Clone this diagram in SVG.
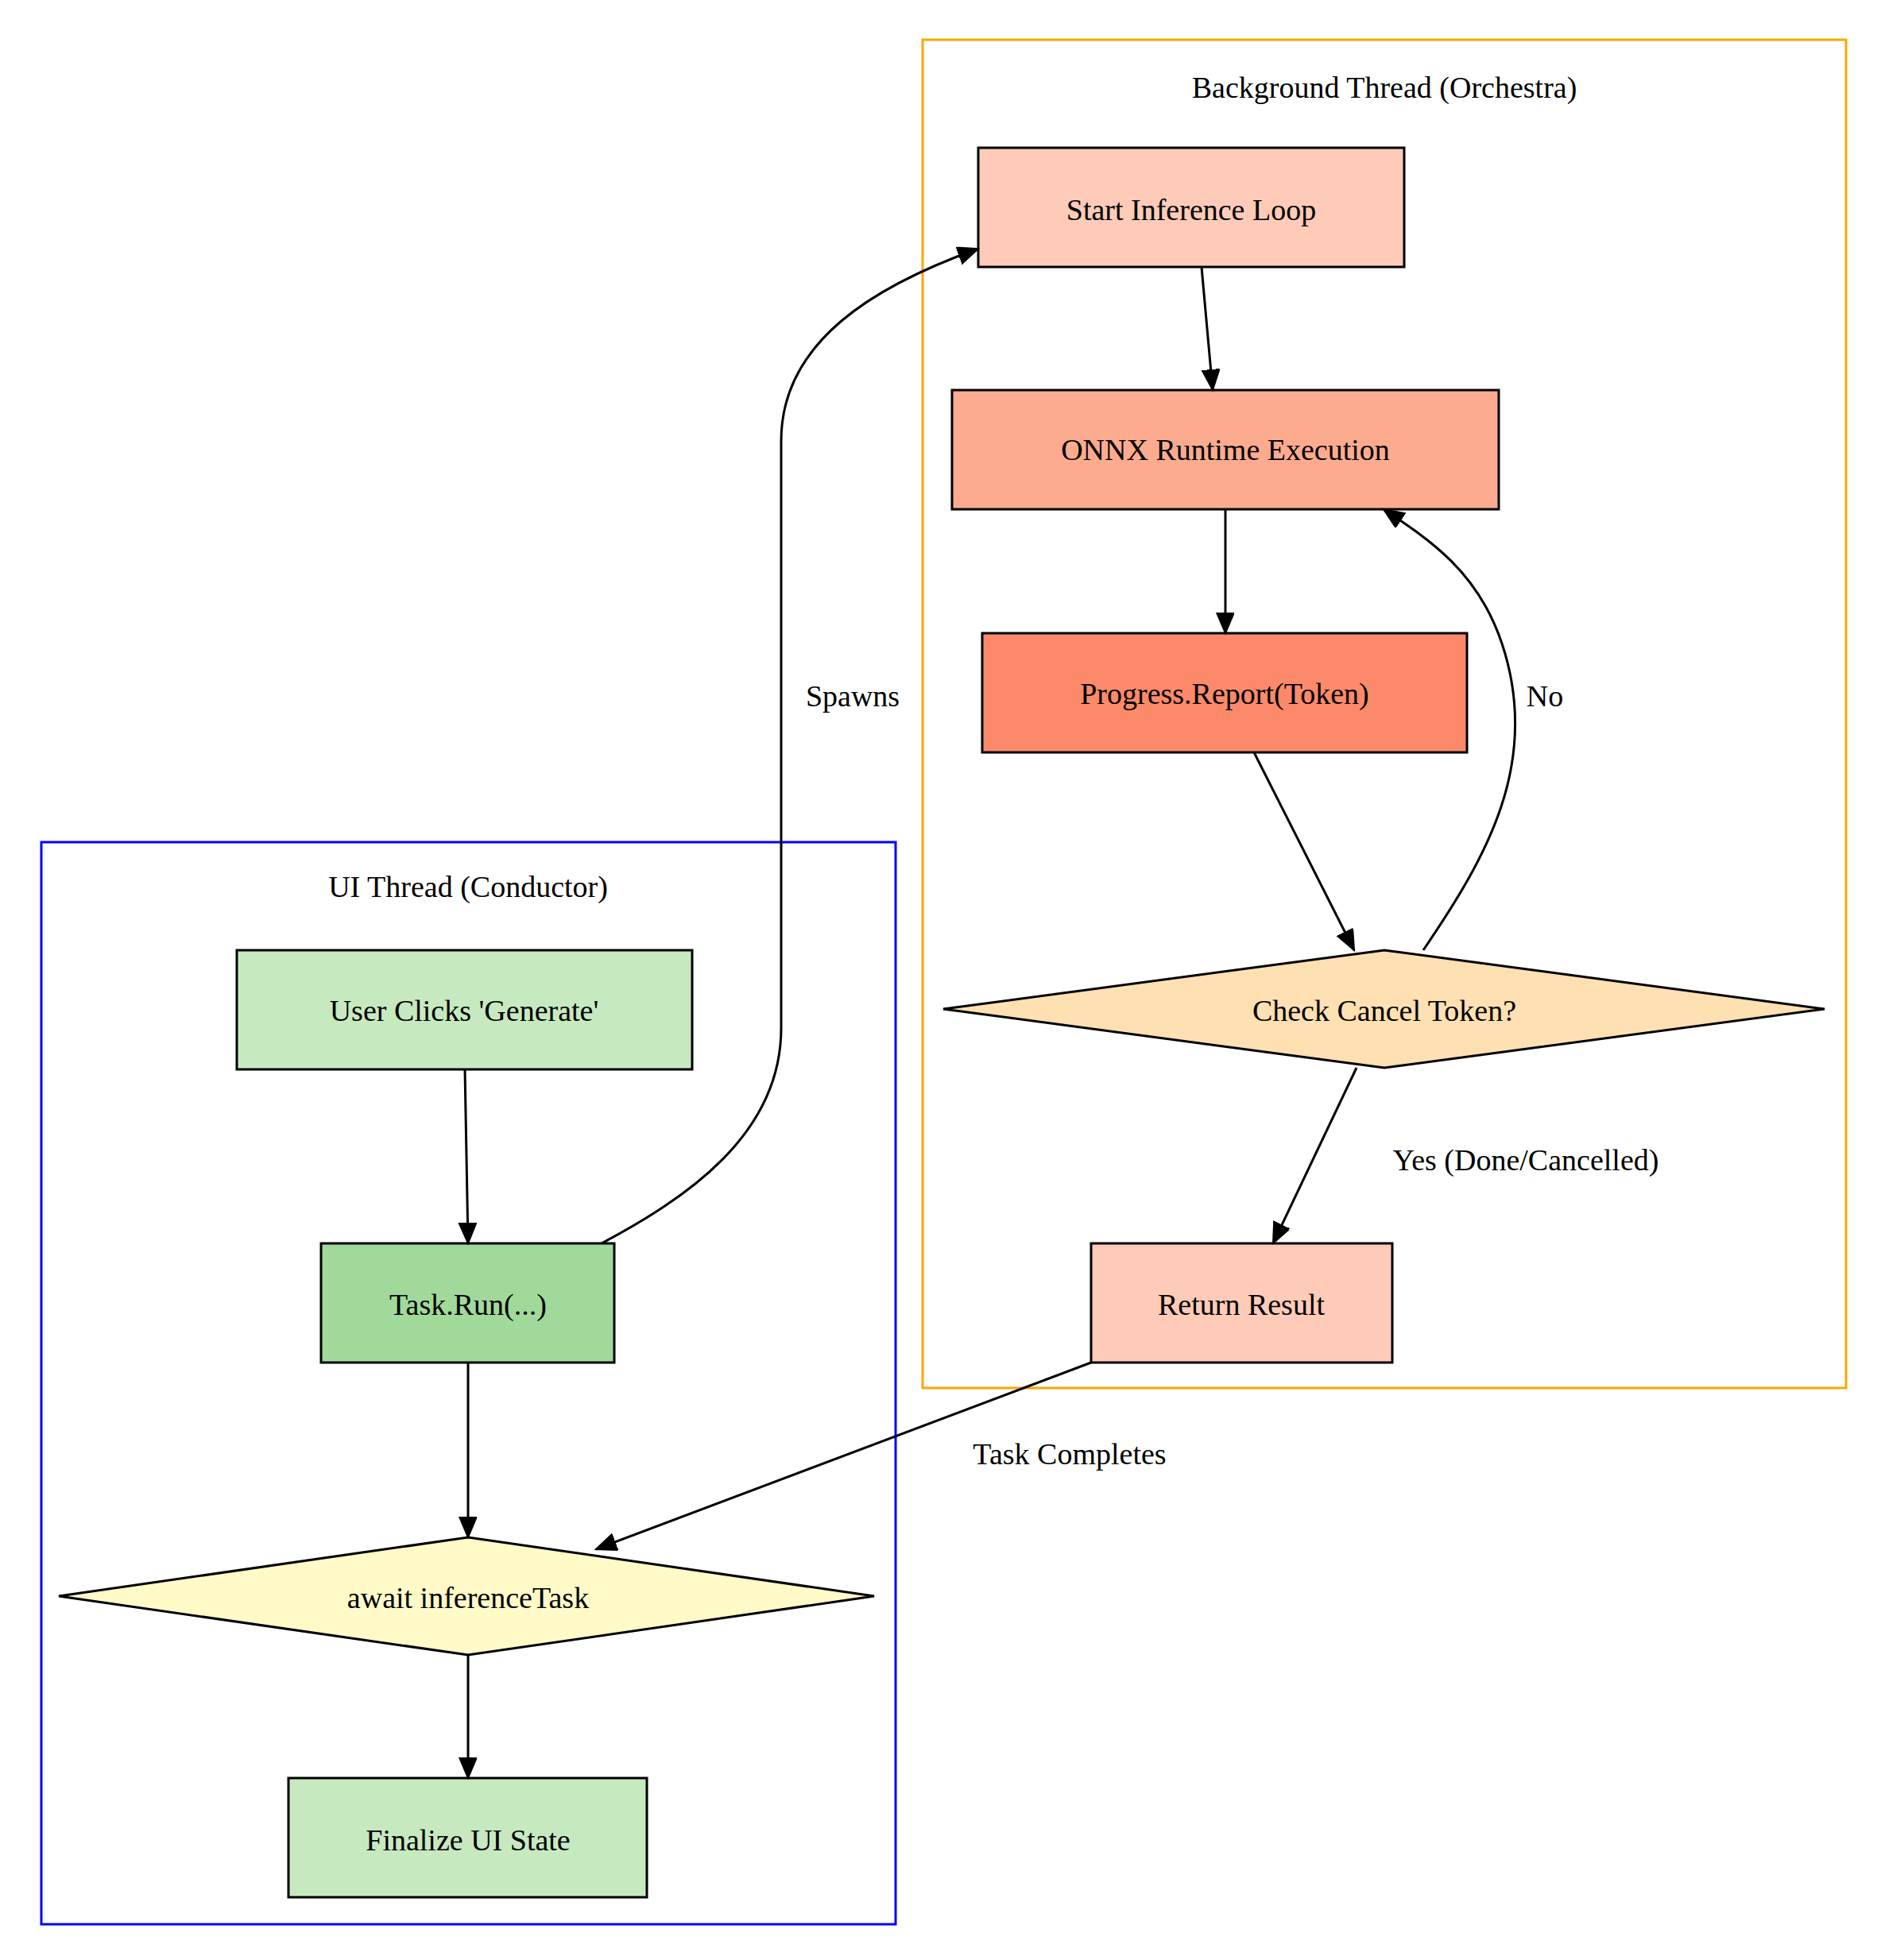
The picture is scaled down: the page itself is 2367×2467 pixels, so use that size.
<svg xmlns="http://www.w3.org/2000/svg" width="2367" height="2467" viewBox="0 0 2367 2467">
<style>
text{font-family:"Liberation Serif","Times New Roman",serif;font-size:38px;fill:#000;text-anchor:middle;dominant-baseline:central}
.n{stroke:#000;stroke-width:3}
.e{fill:none;stroke:#000;stroke-width:3;marker-end:url(#a)}
</style>
<defs><marker id="a" markerUnits="userSpaceOnUse" markerWidth="30" markerHeight="24" refX="26" refY="11" orient="auto"><path d="M0,0 L26,11 L0,22 Z" fill="#000" stroke="#000" stroke-width="2"/></marker></defs>
<rect width="2367" height="2467" fill="#fff"/>
<g id="cluster-bg"><rect x="1161" y="50" width="1162" height="1697" fill="none" stroke="#ffa500" stroke-width="3"/><text x="1742" y="110">Background Thread (Orchestra)</text></g>
<g id="cluster-ui"><rect x="52" y="1060" width="1075" height="1362" fill="none" stroke="#0000ff" stroke-width="3"/><text x="589" y="1116">UI Thread (Conductor)</text></g>
<g id="start"><rect class="n" x="1231" y="186" width="536" height="150" fill="#fdcbb8"/><text x="1499" y="264">Start Inference Loop</text></g>
<g id="onnx"><rect class="n" x="1198" y="491" width="688" height="150" fill="#fcab8f"/><text x="1542" y="566">ONNX Runtime Execution</text></g>
<g id="progress"><rect class="n" x="1236" y="797" width="610" height="150" fill="#fc8a6a"/><text x="1541" y="873">Progress.Report(Token)</text></g>
<g id="check"><polygon class="n" points="1742,1196 2296,1270 1742,1344 1187,1270" fill="#fee0b2"/><text x="1742" y="1272">Check Cancel Token?</text></g>
<g id="return"><rect class="n" x="1373" y="1565" width="379" height="150" fill="#fdcbb8"/><text x="1562" y="1642">Return Result</text></g>
<g id="user"><rect class="n" x="298" y="1196" width="573" height="150" fill="#c7e9c0"/><text x="584" y="1272">User Clicks 'Generate'</text></g>
<g id="taskrun"><rect class="n" x="404" y="1565" width="369" height="150" fill="#a1d99b"/><text x="589" y="1642">Task.Run(...)</text></g>
<g id="await"><polygon class="n" points="589,1935 1100,2009 589,2083 74,2009" fill="#fffac8"/><text x="589" y="2011">await inferenceTask</text></g>
<g id="finalize"><rect class="n" x="363" y="2238" width="451" height="150" fill="#c7e9c0"/><text x="589" y="2316">Finalize UI State</text></g>
<g id="edges">
<path class="e" d="M1512,336 L1526,491"/>
<path class="e" d="M1542,641 L1542,797"/>
<path class="e" d="M1578,947 L1704,1196"/>
<path class="e" d="M1791,1196 C1870,1080 1940,960 1890,810 C1860,720 1800,680 1741,641"/>
<text x="1944" y="876">No</text>
<path class="e" d="M1707,1344 L1602,1565"/>
<text x="1920" y="1460">Yes (Done/Cancelled)</text>
<path class="e" d="M1373,1715 L750,1950"/>
<text x="1346" y="1830">Task Completes</text>
<path class="e" d="M585,1346 L589,1565"/>
<path class="e" d="M757,1565 C860,1510 983,1430 983,1294 L983,555 C983,430 1100,360 1231,313"/>
<text x="1073" y="876">Spawns</text>
<path class="e" d="M589,1715 L589,1935"/>
<path class="e" d="M589,2083 L589,2238"/>
</g>
</svg>
